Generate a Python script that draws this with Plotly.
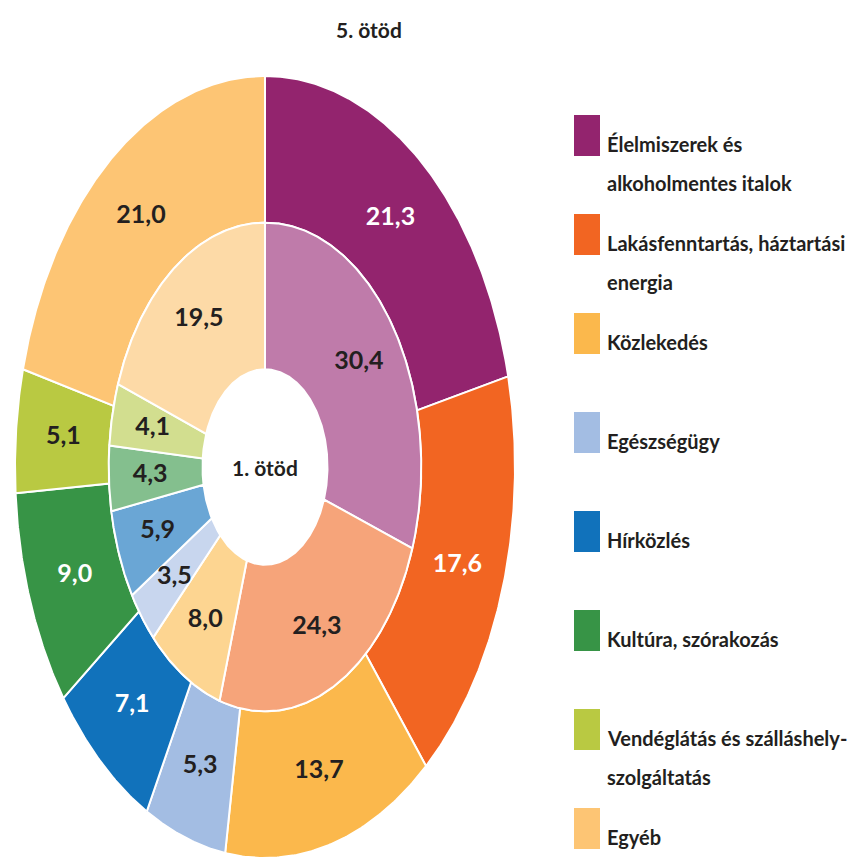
import numpy as np
import plotly.graph_objects as go

categories = ["Élelmiszerek és alkoholmentes italok", "Lakásfenntartás, háztartási energia",
              "Közlekedés", "Egészségügy", "Hírközlés", "Kultúra, szórakozás",
              "Vendéglátás és szálláshely-szolgáltatás", "Egyéb"]
legend_lines = [["Élelmiszerek és", "alkoholmentes italok"],
                ["Lakásfenntartás, háztartási", "energia"],
                ["Közlekedés"], ["Egészségügy"], ["Hírközlés"], ["Kultúra, szórakozás"],
                ["Vendéglátás és szálláshely-", "szolgáltatás"], ["Egyéb"]]
outer_values = [21.3, 17.6, 13.7, 5.3, 7.1, 9.0, 5.1, 21.0]   # 5. ötöd
inner_values = [30.4, 24.3, 8.0, 3.5, 5.9, 4.3, 4.1, 19.5]    # 1. ötöd
outer_colors = ["#93246E", "#F26522", "#FBB84C", "#A3BDE3", "#1172BB", "#379446", "#B9C942", "#FDC574"]
inner_colors = ["#BF7BAA", "#F6A47A", "#FDD591", "#C8D6EE", "#6AA6D5", "#84BF8E", "#D2DE8F", "#FDDAA7"]
outer_label_white = [True, True, False, False, True, True, False, False]
outer_title = "5. ötöd"
inner_title = "1. ötöd"

FONT = "Lato, sans-serif"
DARK = "#231F20"
W, H = 865, 860
OFF = 8  # default page body margin
# plot area in page pixels: x 15..515, y 76..858
PL, PR, PT, PB = 15, 515, 76, 858
L, T = PL - OFF, PT - OFF
R = W - (PR - OFF)
B = H - (PB - OFF)
R_HOLE, R_MID, R_OUT = 0.25, 0.625, 1.0

fig = go.Figure()


def sector(a0, a1, r0, r1):
    th = np.linspace(a0, a1, max(int(abs(a1 - a0) * 180 / np.pi) * 2 + 2, 4))
    xo, yo = r1 * np.sin(th), r1 * np.cos(th)
    xi, yi = r0 * np.sin(th[::-1]), r0 * np.cos(th[::-1])
    x = np.concatenate([xo, xi, xo[:1]])
    y = np.concatenate([yo, yi, yo[:1]])
    return x, y


def ring(values, colors, r0, r1, label_r, label_colors):
    total = sum(values)
    cum = 0.0
    lx, ly, lt, lc = [], [], [], []
    for v, c, name, tc in zip(values, colors, categories, label_colors):
        a0 = cum / total * 2 * np.pi
        cum += v
        a1 = cum / total * 2 * np.pi
        x, y = sector(a0, a1, r0, r1)
        fig.add_trace(go.Scatter(x=x, y=y, fill="toself", fillcolor=c, mode="lines",
                                 line=dict(color="white", width=2), name=name,
                                 hoverinfo="text", text=f"{name}: {v}", showlegend=False))
        am = (a0 + a1) / 2
        lx.append(label_r * np.sin(am))
        ly.append(label_r * np.cos(am))
        lt.append(f"{v:.1f}".replace(".", ","))
        lc.append(tc)
    fig.add_trace(go.Scatter(x=lx, y=ly, mode="text", text=lt,
                             textfont=dict(family=FONT, size=25, color=lc, weight="bold"),
                             hoverinfo="skip", showlegend=False))


ring(outer_values, outer_colors, R_MID, R_OUT, 0.81,
     ["white" if w else DARK for w in outer_label_white])
ring(inner_values, inner_colors, R_HOLE, R_MID, 0.46, [DARK] * len(inner_values))


def px_to_paper(px, py):
    return (px - PL) / (PR - PL), (PB - py) / (PB - PT)


# center label
fig.add_annotation(x=0, y=0, xref="x", yref="y", text=inner_title, showarrow=False,
                   xanchor="center", yanchor="middle",
                   font=dict(family=FONT, size=21, color=DARK, weight="bold"))
# title
tx, ty = px_to_paper(369, 29)
fig.add_annotation(x=tx, y=ty, xref="paper", yref="paper", text=outer_title, showarrow=False,
                   xanchor="center", yanchor="middle",
                   font=dict(family=FONT, size=21, color=DARK, weight="bold"))

# legend
for i, (lines, col) in enumerate(zip(legend_lines, outer_colors)):
    top = 115 + 99 * i
    x0, y0 = px_to_paper(574, top)
    x1, y1 = px_to_paper(600, top + 41)
    fig.add_shape(type="rect", xref="paper", yref="paper", x0=x0, x1=x1, y0=y1, y1=y0,
                  fillcolor=col, line=dict(width=0))
    for j, line in enumerate(lines):
        ax, ay = px_to_paper(605, top + 29 + 39 * j)
        fig.add_annotation(x=ax, y=ay, xref="paper", yref="paper", text=line, showarrow=False,
                           xanchor="left", yanchor="middle",
                           font=dict(family=FONT, size=20, color=DARK, weight="bold"))

fig.update_layout(width=W, height=H, margin=dict(l=L, r=R, t=T, b=B),
                  paper_bgcolor="white", plot_bgcolor="white",
                  xaxis=dict(range=[-1, 1], visible=False, fixedrange=True),
                  yaxis=dict(range=[-1, 1], visible=False, fixedrange=True),
                  showlegend=False)

fig.write_html("out.html")
